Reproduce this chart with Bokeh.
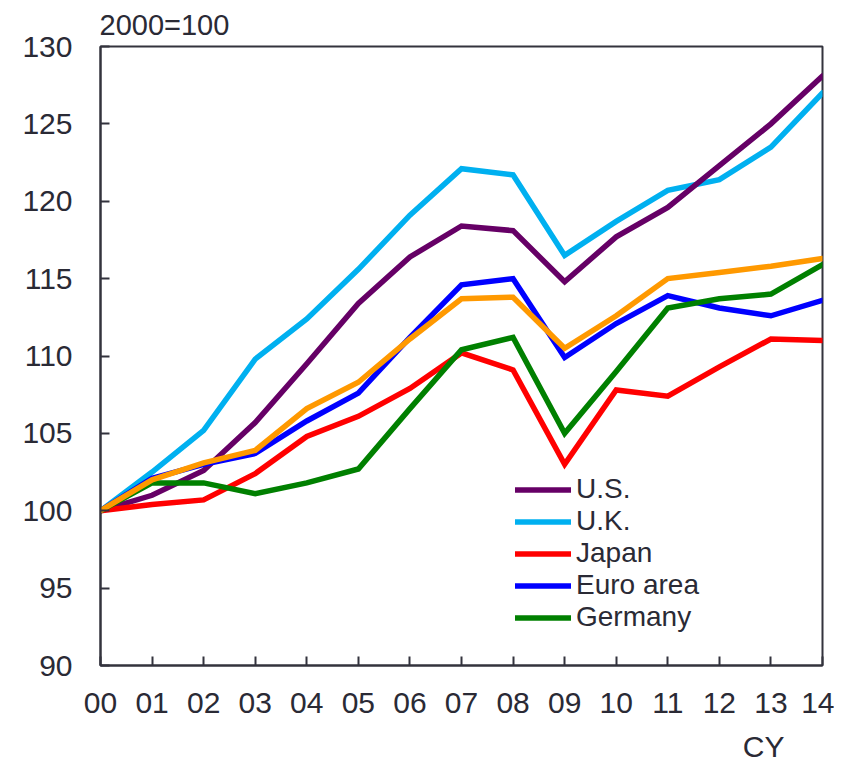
from bokeh.plotting import figure
from bokeh.models import (Range1d, FixedTicker, Legend, LegendItem, Title)
from bokeh.embed import file_html
from bokeh.resources import INLINE

# ---- data (2000 = 100) ----
year_labels = ["00", "01", "02", "03", "04", "05", "06", "07", "08", "09",
               "10", "11", "12", "13", "14"]
years = list(range(len(year_labels)))

us = [100, 101.0, 102.6, 105.7, 109.5, 113.4, 116.4, 118.4, 118.1, 114.8,
      117.7, 119.6, 122.3, 125.0, 128.1]
uk = [100, 102.5, 105.2, 109.8, 112.4, 115.6, 119.1, 122.1, 121.7, 116.5,
      118.7, 120.7, 121.4, 123.5, 127.0]
japan = [100, 100.4, 100.7, 102.4, 104.8, 106.1, 107.9, 110.2, 109.1, 103.0,
         107.8, 107.4, 109.3, 111.1, 111.0]
euro_area = [100, 102.1, 103.0, 103.7, 105.8, 107.6, 111.2, 114.6, 115.0, 109.9,
             112.1, 113.9, 113.1, 112.6, 113.6]
germany = [100, 101.8, 101.8, 101.1, 101.8, 102.7, 106.6, 110.4, 111.2, 105.0,
           109.0, 113.1, 113.7, 114.0, 115.9]
unlabeled = [100, 102.0, 103.1, 103.9, 106.6, 108.3, 111.1, 113.7, 113.8, 110.5,
             112.6, 115.0, 115.4, 115.8, 116.3]

y_ticks = [90, 95, 100, 105, 110, 115, 120, 125, 130]

FONT = "Liberation Sans"
TXT = "#2a2a35"
AX = "#33333d"

p = figure(width=834, height=764, output_backend="svg", toolbar_location=None,
           x_range=Range1d(0, 14), y_range=Range1d(90, 130),
           min_border_left=100, min_border_right=12,
           min_border_top=46, min_border_bottom=99)
p.background_fill_color = "white"
p.border_fill_color = "white"
p.outline_line_color = AX
p.outline_line_width = 2
p.xgrid.visible = False
p.ygrid.visible = False

# axes
p.xaxis.ticker = FixedTicker(ticks=years)
p.xaxis.major_label_overrides = {i: s for i, s in zip(years, year_labels)}
p.yaxis.ticker = FixedTicker(ticks=y_ticks)
for ax in (p.xaxis, p.yaxis):
    ax.axis_line_color = AX
    ax.axis_line_width = 2
    ax.major_tick_line_color = AX
    ax.major_tick_line_width = 2
    ax.major_tick_in = 9
    ax.major_tick_out = 0
    ax.minor_tick_line_color = None
    ax.major_label_text_font = FONT
    ax.major_label_text_font_size = "30px"
    ax.major_label_text_color = TXT
p.yaxis.major_label_standoff = 28
p.xaxis.major_label_standoff = 27
# invisible spacer label pushes the "CY" title a little lower
p.xaxis.axis_label = " "
p.xaxis.axis_label_text_font_size = "6px"
p.xaxis.axis_label_standoff = 3

# lines
lw = 5.5
kw = dict(line_width=lw, line_cap="round", line_join="miter")
r_uk = p.line(years, uk, line_color="#00B0F0", **kw)
r_us = p.line(years, us, line_color="#660066", **kw)
r_jp = p.line(years, japan, line_color="#FF0000", **kw)
r_eu = p.line(years, euro_area, line_color="#0000FF", **kw)
r_de = p.line(years, germany, line_color="#008000", **kw)
r_or = p.line(years, unlabeled, line_color="#FF9900", **kw)

legend = Legend(items=[
    LegendItem(label="U.S.", renderers=[r_us]),
    LegendItem(label="U.K.", renderers=[r_uk]),
    LegendItem(label="Japan", renderers=[r_jp]),
    LegendItem(label="Euro area", renderers=[r_eu]),
    LegendItem(label="Germany", renderers=[r_de]),
], location=(415, 32))
legend.padding = 0
legend.margin = 0
legend.spacing = 0
legend.glyph_width = 56
legend.glyph_height = 31
legend.label_standoff = 5
legend.label_text_font = FONT
legend.label_text_font_size = "28px"
legend.label_text_color = TXT
legend.border_line_alpha = 0
legend.background_fill_alpha = 0
p.add_layout(legend, "center")

# unit label above the frame
p.add_layout(Title(text="2000=100", align="left", offset=-1, standoff=11,
                   text_font=FONT, text_font_size="29px",
                   text_font_style="normal", text_color=TXT), "above")
# axis label below
p.add_layout(Title(text="CY", align="right", offset=38, standoff=0,
                   text_font=FONT, text_font_size="30px",
                   text_font_style="normal", text_color=TXT), "below")

open("out.html", "w").write(file_html(p, INLINE))
